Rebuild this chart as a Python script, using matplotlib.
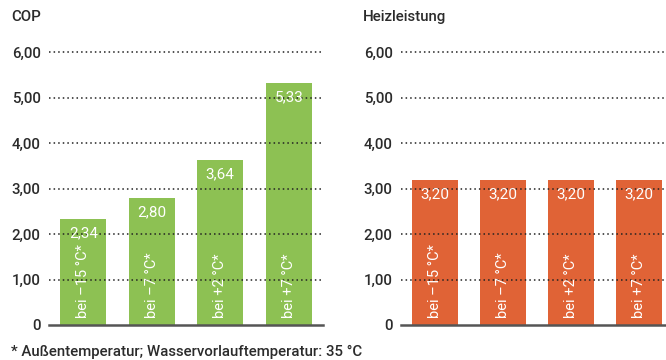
import matplotlib.pyplot as plt

# Werte
temperaturen = ["bei \u201315 °C*", "bei \u20137 °C*", "bei +2 °C*", "bei +7 °C*"]
cop = [2.34, 2.80, 3.64, 5.33]
heizleistung = [3.20, 3.20, 3.20, 3.20]
y_ticks = [0, 1, 2, 3, 4, 5, 6]
y_tick_labels = ["0", "1,00", "2,00", "3,00", "4,00", "5,00", "6,00"]

GRUEN = "#8dc153"
ORANGE = "#e06336"
TEXT = "#2b2b2b"

plt.rcParams["font.family"] = ["Roboto", "DejaVu Sans"]

fig = plt.figure(figsize=(6.66, 3.6), dpi=100)


def panel(ax, werte, farbe, xmax):
    x = range(len(werte))
    ax.bar(x, werte, width=0.67, color=farbe, zorder=1)
    ax.set_xlim(-0.5, xmax)
    ax.set_ylim(0, 6.05)
    ax.set_yticks(y_ticks)
    ax.set_yticklabels(y_tick_labels, fontsize=10.8, color=TEXT, fontweight="medium")
    ax.tick_params(axis="y", length=0, pad=6)
    ax.set_xticks([])
    for s in ["top", "right", "left"]:
        ax.spines[s].set_visible(False)
    ax.spines["bottom"].set_color("#555555")
    ax.spines["bottom"].set_linewidth(1.8)
    ax.spines["bottom"].set_zorder(3)

    # gepunktete Hilfslinien über den Balken
    for y in y_ticks[1:]:
        ax.axhline(y, color="#222222", linestyle=(0, (1, 2)), linewidth=1.1, zorder=2)

    for i, w in enumerate(werte):
        ax.annotate(f"{w:.2f}".replace(".", ","), (i, w), xytext=(0, -5.5),
                    textcoords="offset points", ha="center", va="top",
                    color="white", fontsize=11, zorder=4)
        ax.text(i, 0.15, temperaturen[i], rotation=90, ha="center", va="bottom",
                color="white", fontsize=10.5, zorder=4)


ax1 = fig.add_axes([49 / 666, 35 / 360, 274 / 666, 275 / 360])
panel(ax1, cop, GRUEN, 3.5)
ax2 = fig.add_axes([401 / 666, 35 / 360, 265 / 666, 275 / 360])
panel(ax2, heizleistung, ORANGE, 3.4)

fig.text(11 / 666, 1 - 17 / 360, "COP", fontsize=10.8, color=TEXT, va="center",
         fontweight="medium")
fig.text(363 / 666, 1 - 17 / 360, "Heizleistung", fontsize=10.8, color=TEXT,
         va="center", fontweight="medium")
fig.text(11 / 666, 1 - 352 / 360, "* Außentemperatur; Wasservorlauftemperatur: 35 °C",
         fontsize=10.8, color=TEXT, va="center", fontweight="medium")

fig.savefig("out.png", dpi=100)
